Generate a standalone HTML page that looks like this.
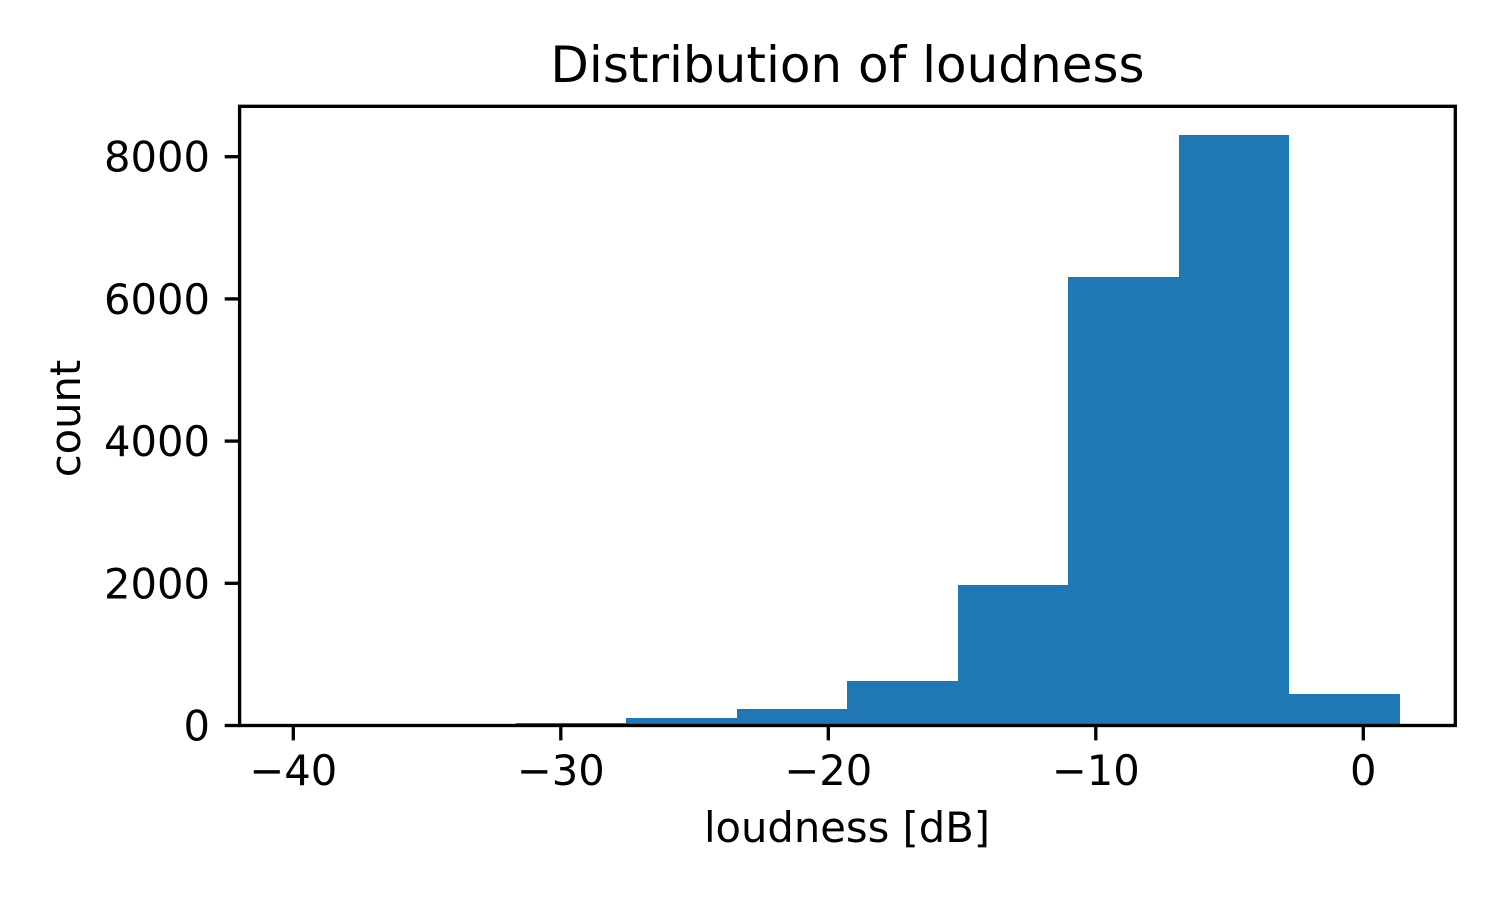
<!DOCTYPE html>
<html lang="en">
<head>
<meta charset="utf-8">
<title>Distribution of loudness</title>
<style>
html,body{margin:0;padding:0;background:#fff;}
svg{display:block;}
text{font-family:"DejaVu Sans","Liberation Sans",sans-serif;fill:#000;}
</style>
</head>
<body>
<svg id="chart" xmlns="http://www.w3.org/2000/svg" width="1500" height="900" viewBox="0 0 1500 900">
  <rect x="0" y="0" width="1500" height="900" fill="#ffffff"/>
  <rect x="239.6" y="106.3" width="1215.7" height="619.2" fill="#ffffff"/>
  <g id="bars"></g>
  <g id="x-ticks"></g>
  <g id="y-ticks"></g>
  <rect x="239.6" y="106.3" width="1215.7" height="619.2" fill="none" stroke="#000" stroke-width="3.33"/>
  <text x="847.5" y="82" font-size="50" text-anchor="middle">Distribution of loudness</text>
  <text x="847" y="842" font-size="41.67" text-anchor="middle">loudness [dB]</text>
  <text x="0" y="0" font-size="41.67" text-anchor="middle" transform="translate(80,418.5) rotate(-90)">count</text>
</svg>
<script>
const binEdges = [-39.93, -35.8, -31.67, -27.56, -23.41, -19.3, -15.15, -11.04, -6.89, -2.76, 1.37];
const binCounts = [1, 3, 39, 100, 229, 623, 1973, 6310, 8310, 440];
const xTickValues = [-40, -30, -20, -10, 0];
const xTickLabels = ['\u221240', '\u221230', '\u221220', '\u221210', '0'];
const yTickValues = [0, 2000, 4000, 6000, 8000];
const yTickLabels = ['0', '2000', '4000', '6000', '8000'];

const SVG_NS = 'http://www.w3.org/2000/svg';
const xScale = function (v) { return 1363.3 + v * 26.75; };
const yScale = function (v) { return 725.5 - v * 0.0711; };

const barsGroup = document.getElementById('bars');
binCounts.forEach(function (count, i) {
  const x0 = Math.round(xScale(binEdges[i]));
  const x1 = Math.round(xScale(binEdges[i + 1]));
  const yTop = Math.round(yScale(count));
  const rect = document.createElementNS(SVG_NS, 'rect');
  
  
  rect.setAttribute('x', x0);
  rect.setAttribute('y', yTop);
  rect.setAttribute('width', x1 - x0);
  rect.setAttribute('height', Math.max(0, yScale(0) - yTop));
  rect.setAttribute('fill', '#1f77b4');
  rect.setAttribute('shape-rendering', 'crispEdges');
  barsGroup.appendChild(rect);
});

const xTicksGroup = document.getElementById('x-ticks');
xTickValues.forEach(function (value, i) {
  const x = xScale(value);
  const tick = document.createElementNS(SVG_NS, 'line');
  
  
  tick.setAttribute('x1', x);
  tick.setAttribute('x2', x);
  tick.setAttribute('y1', 725.5);
  tick.setAttribute('y2', 740.4);
  tick.setAttribute('stroke', '#000');
  tick.setAttribute('stroke-width', '3.33');
  xTicksGroup.appendChild(tick);
  const label = document.createElementNS(SVG_NS, 'text');
  
  
  label.setAttribute('x', x);
  label.setAttribute('y', 785);
  label.setAttribute('font-size', '41.67');
  label.setAttribute('text-anchor', 'middle');
  label.textContent = xTickLabels[i];
  xTicksGroup.appendChild(label);
});

const yTicksGroup = document.getElementById('y-ticks');
yTickValues.forEach(function (value, i) {
  const y = yScale(value);
  const tick = document.createElementNS(SVG_NS, 'line');
  
  
  tick.setAttribute('x1', 224.7);
  tick.setAttribute('x2', 239.6);
  tick.setAttribute('y1', y);
  tick.setAttribute('y2', y);
  tick.setAttribute('stroke', '#000');
  tick.setAttribute('stroke-width', '3.33');
  yTicksGroup.appendChild(tick);
  const label = document.createElementNS(SVG_NS, 'text');
  
  
  label.setAttribute('x', 210);
  label.setAttribute('y', y + 15);
  label.setAttribute('font-size', '41.67');
  label.setAttribute('text-anchor', 'end');
  label.textContent = yTickLabels[i];
  yTicksGroup.appendChild(label);
});
</script>
</body>
</html>
